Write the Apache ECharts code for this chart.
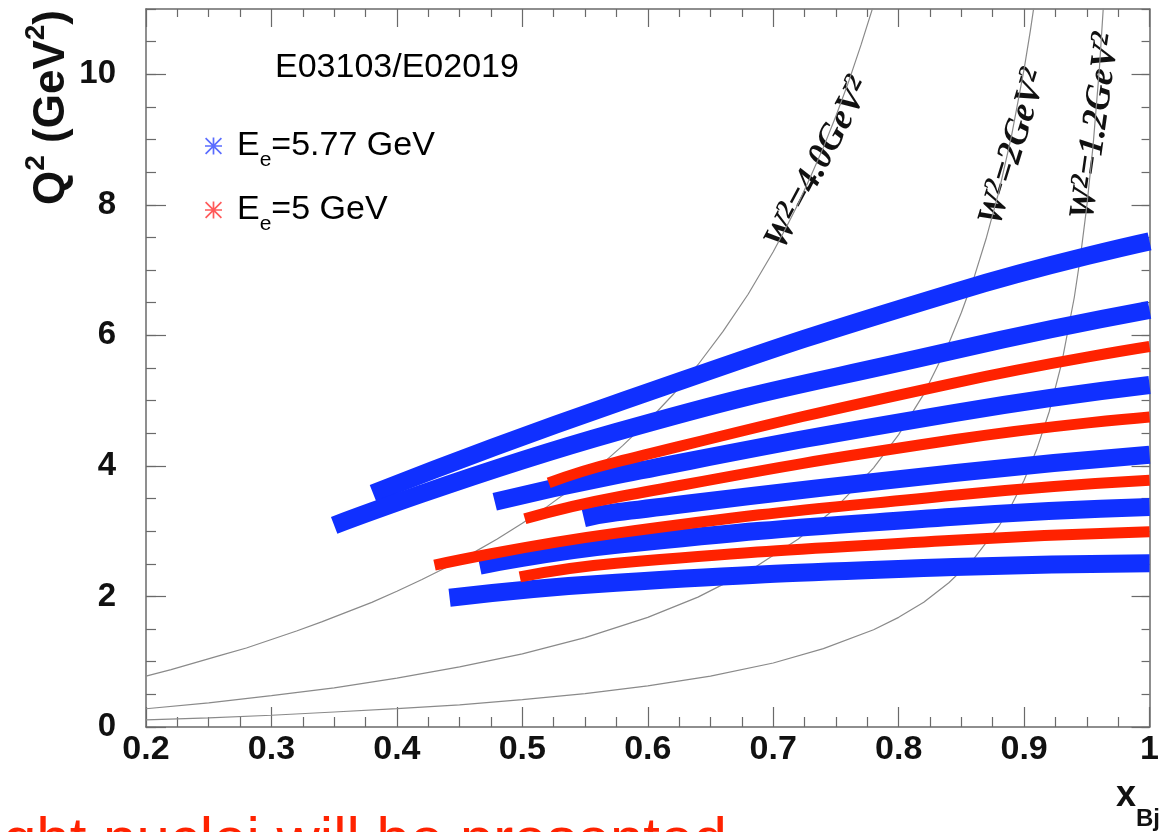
<!DOCTYPE html>
<html><head><meta charset="utf-8">
<script src="https://cdn.jsdelivr.net/npm/echarts@6/dist/echarts.min.js"></script>
<style>html,body{margin:0;padding:0;background:#fff}#c{width:1162px;height:832px}</style>
</head><body><div id="c"></div>
<script>
// ---- data: [x_Bj, Q^2] ----
const W2_4p0 = [[0.20,0.78],[0.22,0.88],[0.24,0.99],[0.26,1.10],[0.28,1.21],[0.30,1.34],[0.32,1.47],[0.34,1.61],[0.36,1.76],[0.38,1.91],[0.40,2.08],[0.42,2.26],[0.44,2.45],[0.46,2.66],[0.48,2.88],[0.50,3.12],[0.52,3.38],[0.54,3.66],[0.56,3.97],[0.58,4.31],[0.60,4.68],[0.62,5.09],[0.64,5.55],[0.66,6.06],[0.68,6.63],[0.70,7.28],[0.71,7.64],[0.72,8.02],[0.73,8.44],[0.74,8.88],[0.75,9.36],[0.76,9.88],[0.77,10.45],[0.78,11.06]];
const W2_2p0 = [[0.20,0.28],[0.25,0.37],[0.30,0.48],[0.35,0.60],[0.40,0.75],[0.45,0.92],[0.50,1.12],[0.55,1.37],[0.60,1.68],[0.64,1.99],[0.68,2.38],[0.72,2.88],[0.75,3.36],[0.78,3.97],[0.80,4.48],[0.82,5.10],[0.84,5.88],[0.85,6.35],[0.86,6.88],[0.87,7.50],[0.88,8.21],[0.89,9.06],[0.90,10.08],[0.905,10.67],[0.91,11.32]];
const W2_1p2 = [[0.20,0.11],[0.25,0.14],[0.30,0.18],[0.35,0.23],[0.40,0.28],[0.45,0.34],[0.50,0.42],[0.55,0.51],[0.60,0.63],[0.65,0.78],[0.70,0.98],[0.74,1.20],[0.78,1.49],[0.80,1.68],[0.82,1.91],[0.84,2.21],[0.86,2.58],[0.88,3.08],[0.89,3.40],[0.90,3.78],[0.91,4.25],[0.92,4.83],[0.93,5.58],[0.94,6.58],[0.945,7.22],[0.95,7.98],[0.955,8.91],[0.96,10.08],[0.965,11.58]];

const blueBands = [
  [[0.381,3.58],[0.575,4.96],[0.844,6.66],[1.0,7.44]],
  [[0.350,3.09],[0.575,4.52],[0.844,5.77],[1.0,6.39]],
  [[0.478,3.45],[0.575,3.86],[0.844,4.81],[1.0,5.24]],
  [[0.549,3.20],[0.575,3.29],[0.844,3.89],[1.0,4.17]],
  [[0.466,2.47],[0.575,2.79],[0.844,3.22],[1.0,3.37]],
  [[0.442,1.98],[0.575,2.21],[0.844,2.45],[1.0,2.51]]
];
const redBands = [
  [[0.521,3.74],[0.575,4.06],[0.844,5.27],[1.0,5.83]],
  [[0.502,3.19],[0.575,3.52],[0.844,4.40],[1.0,4.75]],
  [[0.430,2.48],[0.575,2.97],[0.844,3.55],[1.0,3.78]],
  [[0.498,2.30],[0.575,2.51],[0.844,2.86],[1.0,2.99]]
];
const seriesNames = ['E_e=5.77 GeV', 'E_e=5 GeV'];
const xTickLabels = ['0.2','0.3','0.4','0.5','0.6','0.7','0.8','0.9','1'];
const yTickLabels = ['0','2','4','6','8','10'];
const yMajorTicks = [0,2,4,6,8,10];
const wLabels = [
  {w:'4.0', x:818, y:163, deg:62},
  {w:'2', x:1013, y:147, deg:73},
  {w:'1.2', x:1095, y:126, deg:82}
];

const BLUE = '#1030ff', RED = '#ff2200';
const SANS = 'Liberation Sans, Arial, Helvetica, sans-serif';
const SERIF = 'Liberation Serif, Times New Roman, serif';
const asterisk = 'path://M0 9 L20 9 L20 11 L0 11 Z M9 0 L11 0 L11 20 L9 20 Z M1.4 0 L20 18.6 L18.6 20 L0 1.4 Z M18.6 0 L20 1.4 L1.4 20 L0 18.6 Z';

const axisCol = '#6a6a6a';
function xAx(pos, labels) {
  return {
    type:'value', position:pos, min:0.2, max:1.0, interval:0.1,
    axisLine:{show:true, onZero:false, lineStyle:{color:axisCol, width:1.5}},
    axisTick:{show:true, inside:true, length: pos==='bottom'?20:18, lineStyle:{color:axisCol, width:1.2}},
    minorTick:{show:true, splitNumber:4, length: pos==='bottom'?10:8, lineStyle:{color:axisCol, width:1.2}},
    splitLine:{show:false},
    axisLabel:{show:labels, margin:6, fontFamily:SANS, fontWeight:'bold', fontSize:34, color:'#111',
      formatter: v => { const i = Math.round((v-0.2)*10); return xTickLabels[i] !== undefined ? xTickLabels[i] : ''; }}
  };
}
function yMain(pos, labels) {
  return {
    type:'value', position:pos, min:0, max:11, interval:2,
    axisLine:{show:true, onZero:false, lineStyle:{color:axisCol, width:1.5}},
    axisTick:{show:true, inside:true, customValues:yMajorTicks, length: pos==='left'?20:18, lineStyle:{color:axisCol, width:1.2}},
    minorTick:{show:false},
    splitLine:{show:false},
    axisLabel:{show:labels, margin:30, showMaxLabel:false, fontFamily:SANS, fontWeight:'bold', fontSize:33, color:'#111',
      formatter: v => { const i = Math.round(v/2); return (v%2===0 && yTickLabels[i]!==undefined) ? yTickLabels[i] : ''; }}
  };
}
function yMinor(pos) {
  return {
    type:'value', position:pos, min:0, max:11, interval:0.5,
    axisLine:{show:false, onZero:false},
    axisTick:{show:true, inside:true, length: pos==='left'?10:8, lineStyle:{color:axisCol, width:1.2}},
    axisLabel:{show:false}, splitLine:{show:false}, minorTick:{show:false}
  };
}

const series = [];
[W2_4p0, W2_2p0, W2_1p2].forEach((d,i) => series.push({
  type:'line', name:'W'+i, data:d, showSymbol:false, smooth:false,
  lineStyle:{color:'#8a8a8a', width:1.2}, silent:true, z:2
}));
blueBands.forEach(d => series.push({
  type:'line', name:seriesNames[0], data:d, showSymbol:false, smooth:true,
  lineStyle:{color:BLUE, width:18, cap:'butt'}, itemStyle:{color:BLUE}, z:3
}));
redBands.forEach(d => series.push({
  type:'line', name:seriesNames[1], data:d, showSymbol:false, smooth:true,
  lineStyle:{color:RED, width:11, cap:'butt'}, itemStyle:{color:RED}, z:4
}));

const graphics = [
  {type:'text', left:275, top:51, style:{text:'E03103/E02019', fontFamily:SANS, fontSize:34, fill:'#000'}},
  {type:'text', x:48, y:10, rotation:Math.PI/2, style:{
    text:'{a|Q}{s|2}{a| (GeV}{s|2}{a|)}', align:'right', verticalAlign:'middle',
    rich:{a:{fontFamily:SANS, fontWeight:'bold', fontSize:44, fill:'#111', lineHeight:52, verticalAlign:'bottom'},
          s:{fontFamily:SANS, fontWeight:'bold', fontSize:28, fill:'#111', lineHeight:28, verticalAlign:'top'}}}},
  {type:'text', x:1160, y:796, style:{
    text:'{x|x}{s|Bj}', align:'right', verticalAlign:'middle',
    rich:{x:{fontFamily:SANS, fontWeight:'bold', fontSize:36, fill:'#111', lineHeight:70, verticalAlign:'middle'},
          s:{fontFamily:SANS, fontWeight:'bold', fontSize:24, fill:'#111', lineHeight:24, verticalAlign:'bottom'}}}},
  {type:'text', x:3, y:842, style:{text:'ght nuclei will be presented', fontFamily:SANS, fontSize:60, fill:RED, verticalAlign:'middle'}}
];
wLabels.forEach(L => graphics.push({
  type:'text', x:L.x, y:L.y, rotation:L.deg*Math.PI/180, style:{
    text:'{a|W}{s|2}{a|=' + L.w + 'GeV}{s|2}', align:'center', verticalAlign:'middle',
    rich:{a:{fontFamily:SERIF, fontWeight:'bold', fontStyle:'italic', fontSize:36, fill:'#111', lineHeight:38, verticalAlign:'bottom'},
          s:{fontFamily:SERIF, fontWeight:'bold', fontStyle:'italic', fontSize:26, fill:'#111', lineHeight:30, verticalAlign:'top'}}}
}));

const chart = echarts.init(document.getElementById('c'), null, {renderer:'canvas'});
chart.setOption({
  animation:false,
  backgroundColor:'#fff',
  grid:{left:146, top:9, width:1013, height:718, containLabel:false},
  xAxis:[xAx('bottom', true), xAx('top', false)],
  yAxis:[yMain('left', true), yMinor('left'), yMain('right', false), yMinor('right')],
  legend:{
    orient:'vertical', left:200, top:124, itemGap:22, itemWidth:17, itemHeight:17,
    data:[{name:seriesNames[0], icon:asterisk, itemStyle:{color:'#5a6cff'}},
          {name:seriesNames[1], icon:asterisk, itemStyle:{color:'#ff5a5a'}}],
    formatter: n => { const p = n.split('='); return '{e|E}{s|e}{a|=' + p[1] + '}'; },
    textStyle:{rich:{
      e:{fontFamily:SANS, fontSize:34, color:'#000', lineHeight:50, verticalAlign:'middle', padding:[0,0,0,10]},
      a:{fontFamily:SANS, fontSize:34, color:'#000', lineHeight:50, verticalAlign:'middle'},
      s:{fontFamily:SANS, fontSize:21, color:'#000', lineHeight:20, verticalAlign:'bottom'}}}
  },
  series: series,
  graphic: graphics
});
</script></body></html>
